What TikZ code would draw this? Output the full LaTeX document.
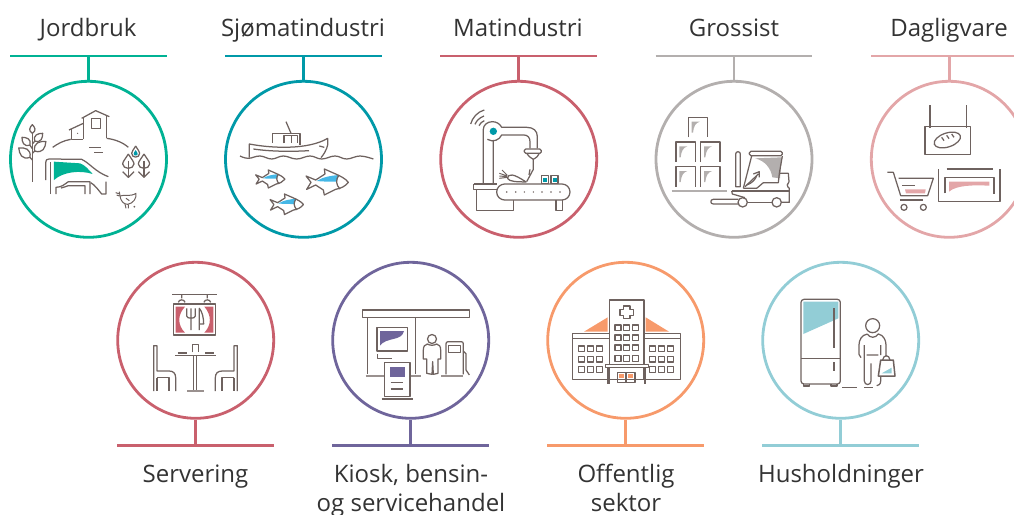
\documentclass[tikz,border=0pt]{standalone}
\usepackage{fontspec}
\setmainfont{Open Sans}
\definecolor{ink}{HTML}{6E625F}
\definecolor{cgreen}{HTML}{00B294}
\definecolor{cteal}{HTML}{0099A8}
\definecolor{crose}{HTML}{C9606D}
\definecolor{cgray}{HTML}{B3AFAE}
\definecolor{cpink}{HTML}{E3A6A8}
\definecolor{cpurple}{HTML}{6F659B}
\definecolor{corange}{HTML}{F79A6B}
\definecolor{cblue}{HTML}{92CDD6}
\definecolor{cfish}{HTML}{45B7E6}
\tikzset{
  ring/.style={circle,draw=#1,line width=2.8pt,minimum size=156pt,inner sep=0pt},
  barline/.style={draw=#1,line width=2.8pt},
  lab/.style={font=\fontsize{24}{29}\selectfont,text=black!80,align=center,inner sep=0pt,anchor=base},
  ico/.style={draw=ink,line width=1.25pt,line join=round,fill=none},
  thickico/.style={draw=ink!70,line width=2.4pt},
  iconframe/.style 2 args={shift={(#1,#2)},x=0.33333pt,y=-0.33333pt},
}
\newcommand{\lf}[4]{\draw[ico,shift={(#1,#2)},rotate=#3] (0,0) .. controls ({#4*.5},{-#4*.3}) and ({#4*.3},{-#4*.7}) .. (0,{-#4}) .. controls ({-#4*.3},{-#4*.7}) and ({-#4*.5},{-#4*.3}) .. (0,0);}
\newcommand{\fishy}[3]{\begin{scope}[shift={(#1,#2)},scale=#3]
  \fill[cfish] (32,36) .. controls (50,24) and (75,20) .. (99,18) -- (92,38) .. controls (70,38) and (50,38) .. cycle;
  \draw[ico] (0,21) -- (29,33) -- (57,15) -- (55,0) -- (89,15) .. controls (105,22) and (120,30) .. (127,40) .. controls (118,52) and (105,58) .. (89,61) -- (55,78) -- (52,63) -- (29,48) -- (2,61) -- (15,40) -- cycle;
  \draw[ico] (99,18) .. controls (88,32) and (90,48) .. (102,60);
\end{scope}}
\newcommand{\crate}[2]{\fill[cgray] (#1+10,#2+13) -- (#1+34,#2+13) .. controls (#1+22,#2+17) and (#1+16,#2+26) .. (#1+14,#2+46) -- (#1+10,#2+46) -- cycle;
  \draw[ico] (#1,#2+60) -- (#1,#2) -- (#1+58,#2) -- (#1+58,#2+60);}
\newcommand{\winrow}[4]{\foreach \xx in {#1}{\draw[ico] (\xx,#2) rectangle ++(#3,#4);}}
\begin{document}
\begin{tikzpicture}[x=1pt,y=-1pt]
\useasboundingbox (0,0) rectangle (1014,514);
\clip (0,0) rectangle (1014,514);
% rings
\node[ring=cgreen]  (r1) at (88.5,159.3) {};
\node[ring=cteal]   (r2) at (303.5,159.3) {};
\node[ring=crose]   (r3) at (518.7,159.3) {};
\node[ring=cgray]   (r4) at (734,159.3) {};
\node[ring=cpink]   (r5) at (949.3,159.3) {};
\node[ring=crose]   (r6) at (195.7,340.3) {};
\node[ring=cpurple] (r7) at (410.7,340.3) {};
\node[ring=corange] (r8) at (625.7,340.3) {};
\node[ring=cblue]   (r9) at (840.7,340.3) {};
% bars and connectors
\foreach \n/\x/\c in {1/88.5/cgreen,2/303.5/cteal,3/518.7/crose,4/734/cgray,5/949.3/cpink}{
  \coordinate (b\n) at (\x,56);
  \draw[barline=\c] (\x-78.3,56) -- (\x+78.3,56);
  \draw[barline=\c] (b\n) -- (r\n.north);
}
\foreach \n/\x/\c in {6/195.7/crose,7/410.7/cpurple,8/625.7/corange,9/840.7/cblue}{
  \coordinate (b\n) at (\x,445.5);
  \draw[barline=\c] (\x-78.3,445.5) -- (\x+78.3,445.5);
  \draw[barline=\c] (b\n) -- (r\n.south);
}
% labels
\node[lab] (l1) at (88,36) {Jordbruk};
\node[lab] (l2) at (303,36) {Sjømatindustri};
\node[lab] (l3) at (518,36) {Matindustri};
\node[lab] (l4) at (734,36) {Grossist};
\node[lab] (l5) at (949,36) {Dagligvare};
\node[lab] (l6) at (195.5,482) {Servering};
\node[lab] (l7a) at (411,482) {Kiosk, bensin-};
\node[lab] (l7b) at (411,511) {og servicehandel};
\node[lab] (l8a) at (626,482) {Offentlig};
\node[lab] (l8b) at (626,511) {sektor};
\node[lab] (l9) at (841,482) {Husholdninger};
% icon 1: farm
\begin{scope}[iconframe={0}{70}]
\draw[ico] (250,207) -- (250,142); \draw[ico] (245,145) -- (287,122) -- (328,140); \draw[ico] (320,136) -- (320,205);
\draw[ico] (274,145) rectangle (301,175);
\draw[ico] (250,160) -- (207,180); \draw[ico] (215,178) -- (215,208) -- (250,208);
\fill[ink] (233,190) circle (2);
\draw[ico] (158,232) .. controls (175,220) and (190,212) .. (212,208);
\draw[ico] (320,205) .. controls (345,208) and (370,218) .. (385,232);
\draw[ico] (268,232) -- (303,232); \draw[ico] (283,247) -- (310,247);
\draw[ico] (97,335) -- (97,190);
\lf{97}{190}{0}{26} \lf{90}{226}{45}{34} \lf{104}{214}{-45}{34} \lf{90}{262}{50}{44} \lf{104}{243}{-50}{44}
\draw[ico] (90,226) -- (97,236); \draw[ico] (104,214) -- (97,222); \draw[ico] (90,262) -- (97,270); \draw[ico] (104,243) -- (97,250);
\fill[cgreen] (162,275) -- (240,280) .. controls (255,285) and (265,298) .. (278,312) .. controls (240,300) and (190,305) .. (162,330) -- cycle;
\draw[ico] (137,330) -- (137,278) .. controls (137,270) and (140,267) .. (147,267) -- (245,268) .. controls (270,280) and (285,305) .. (325,320);
\draw[ico] (152,372) -- (152,275);
\draw[ico] (168,372) -- (168,352) .. controls (185,352) and (195,342) .. (205,335) -- (270,335) -- (270,372);
\draw[ico] (255,372) -- (255,347) -- (205,347) .. controls (198,350) and (190,352) .. (183,354);
\draw[ico] (272,338) .. controls (285,345) and (295,360) .. (305,372) -- (318,372) -- (318,335);
\draw[ico] (407,228) .. controls (400,240) and (395,245) .. (395,250) .. controls (395,265) and (419,265) .. (419,250) .. controls (419,245) and (414,240) .. (407,228);
\fill[cteal] (407,240) .. controls (403,246) and (401,249) .. (401,252) .. controls (401,258) and (413,258) .. (413,252) .. controls (413,249) and (411,246) .. (407,240);
\foreach \tx in {385,432}{
 \draw[ico] (\tx,252) .. controls (\tx-8,265) and (\tx-17,275) .. (\tx-17,282) .. controls (\tx-17,290) and (\tx-8,295) .. (\tx,295) .. controls (\tx+8,295) and (\tx+17,290) .. (\tx+17,282) .. controls (\tx+17,275) and (\tx+8,265) .. (\tx,252);
 \draw[ico] (\tx,272) -- (\tx,322); \draw[ico] (\tx-17,305) -- (\tx,322) -- (\tx+17,305);
}
\draw[ico,line width=1pt] (360,378) .. controls (375,372) and (388,382) .. (408,370) .. controls (410,385) and (400,400) .. (383,403) .. controls (370,403) and (362,392) .. (360,378);
\draw[ico,line width=1pt] (360,378) -- (358,365) (347,368) -- (360,372) (350,375) -- (358,378);
\draw[ico,line width=1pt] (375,402) -- (378,415) (385,403) -- (385,415) (378,385) -- (388,392);
\fill[ink] (403,410) circle (3);
\end{scope}
% icon 2: boat and fish
\begin{scope}[iconframe={215}{70}]
\draw[ico] (103,263) -- (103,222) .. controls (170,235) and (280,240) .. (338,205) -- (338,225) .. controls (335,240) and (325,255) .. (318,263);
\draw[ico] (115,237) .. controls (170,245) and (230,245) .. (282,242);
\draw[ico] (173,218) -- (173,190) -- (255,190) -- (255,225);
\draw[ico] (207,220) -- (207,197) -- (247,197) -- (247,220); \draw[ico] (229,197) -- (229,220);
\draw[ico] (213,155) -- (228,190);
\draw[ico] (313,228) -- (328,232);
\draw[ico] plot[smooth,tension=.7] coordinates {(75,258) (100,265) (135,258) (170,267) (205,258) (245,267) (285,258) (320,267) (360,258) (395,267) (435,258) (475,267)};
\fishy{122}{300}{.69}
\fishy{165}{372}{.79}
\fishy{273}{297}{1}
\end{scope}
% icon 3: robot
\begin{scope}[iconframe={430}{70}]
\draw[ico] (160,342) -- (160,178) .. controls (160,165) and (172,155) .. (187,155) .. controls (200,155) and (210,162) .. (215,172) -- (290,172) .. controls (310,172) and (322,182) .. (322,200) -- (322,235);
\draw[ico] (190,342) -- (190,212) (172,208) .. controls (190,218) and (208,210) .. (215,195) -- (282,195) .. controls (293,195) and (300,203) .. (300,215) -- (300,235);
\fill[cteal] (190,184) circle (11);
\draw[ico] (122,162) .. controls (127,143) and (143,125) .. (163,120);
\draw[ico] (135,163) .. controls (139,153) and (148,143) .. (162,138);
\draw[ico] (147,167) .. controls (150,160) and (156,155) .. (163,152);
\draw[ico,rounded corners=1.5pt] (283,237) -- (334,237) -- (334,250) -- (283,250) -- cycle;
\draw[ico] (290,250) .. controls (295,258) and (300,262) .. (310,268) .. controls (320,262) and (325,258) .. (328,250);
\draw[ico] (310,268) -- (310,298) -- (290,335); \draw[ico] (300,298) -- (297,315);
\draw[ico] (232,325) .. controls (235,310) and (250,310) .. (288,336) .. controls (260,335) and (240,336) .. (232,325);
\draw[ico,line width=1pt] (232,318) -- (208,310) (232,320) -- (208,318) (232,322) -- (208,325) (232,316) -- (216,300);
\draw[ico] (131,342) -- (200,342) (131,342) -- (131,358) -- (200,358);
\draw[ico] (140,358) -- (140,422) -- (250,422) -- (250,390);
\filldraw[ico,fill=white] (224,342) -- (396,342) arc (-90:90:24) -- (224,390) arc (90:270:24) -- cycle;
\foreach \dx in {230,257,283,310,336,363,390}{\fill[ink] (\dx,366) circle (2.5);}
\draw[ico] (378,390) -- (378,422) -- (397,422) -- (397,390);
\foreach \bx in {335,363}{\draw[ico] (\bx,317) rectangle ++(21,23); \fill[cteal] (\bx+5,323) rectangle ++(12,12);}
\end{scope}
% icon 4: forklift
\begin{scope}[iconframe={645}{70}]
\crate{130}{142}\crate{93}{216}\crate{167}{216}\crate{93}{290}\crate{167}{290}
\draw[draw=cgray,line width=2.4pt] (80,363) -- (245,363);
\draw[ico] (272,252) arc (180:360:7) -- (286,350) -- (272,350) -- cycle;
\draw[ico,rounded corners=1.5pt] (313,244) rectangle (412,257);
\fill[cgray] (330,265) -- (410,262) -- (405,325) -- (382,322) .. controls (378,295) and (360,272) .. (330,265) -- cycle;
\draw[ico] (320,258) -- (295,355); \draw[ico] (412,258) -- (403,310);
\draw[ico] (403,310) -- (430,310) -- (432,335) .. controls (425,340) and (425,350) .. (433,355) -- (433,397) -- (410,397);
\draw[ico] (380,397) -- (308,397);
\draw[ico] (295,355) -- (335,355) -- (355,338) -- (400,338) -- (403,310);
\draw[ico] (260,363) -- (433,363);
\draw[ico] (260,363) -- (262,372) -- (300,383);
\draw[ico] (300,350) -- (340,312) (325,312) -- (343,305) -- (343,322);
\draw[ico] (305,345) .. controls (320,340) and (330,330) .. (335,318);
\draw[ico] (280,388) -- (205,388) .. controls (195,388) and (195,402) .. (205,402) -- (280,402);
\filldraw[ico,fill=white] (293,397) circle (14); \filldraw[ico,fill=white] (395,397) circle (14);
\end{scope}
% icon 5: grocery
\begin{scope}[iconframe={860}{70}]
\draw[ico] (210,105) -- (210,175) (320,105) -- (320,175);
\draw[ico] (195,170) rectangle (332,253);
\draw[ico,rotate around={18:(262,210)}] (262,210) ellipse (41 and 21);
\draw[ico] (245,202) -- (252,212) (260,196) -- (267,206) (275,192) -- (282,202);
\draw[ico] (82,307) -- (100,307) -- (122,377) -- (203,377) -- (220,325) -- (116,325);
\draw[ico] (127,347) -- (165,347) (120,390) -- (190,390);
\fill[cpink] (135,358) -- (197,358) -- (195,370) -- (138,370) -- cycle;
\draw[ico] (132,412) circle (9); \draw[ico] (190,412) circle (9);
\draw[ico] (235,297) -- (235,395) -- (420,395) -- (420,297);
\draw[ico] (260,297) -- (398,297);
\draw[ico] (255,370) -- (255,322) -- (402,322) -- (402,372);
\fill[cpink] (267,335) -- (388,335) -- (388,347) .. controls (340,345) and (290,345) .. (267,365) -- cycle;
\end{scope}
% icon 6: restaurant
\begin{scope}[iconframe={105}{255}]
\draw[ico] (202,118) -- (335,118);
\foreach \hx in {230,307}{\draw[ico] (\hx,118) -- (\hx,130) (\hx-10,142) .. controls (\hx-8,132) and (\hx+8,132) .. (\hx+10,142);}
\draw[ico,line width=1.5pt] (205,147) rectangle (332,240);
\fill[crose] (212,155) -- (240,155) .. controls (217,180) and (217,210) .. (240,233) -- (212,233) -- cycle;
\fill[crose] (325,155) -- (298,155) .. controls (320,180) and (320,210) .. (298,233) -- (325,233) -- cycle;
\draw[ico] (245,160) -- (245,183) .. controls (245,192) and (271,192) .. (271,183) -- (271,160) (258,160) -- (258,225);
\draw[ico] (283,225) -- (283,160) .. controls (292,170) and (296,190) .. (296,207) -- (283,207);
\draw[ico] (210,302) -- (332,302) (218,294) -- (245,294) (300,294) -- (327,294);
\draw[ico] (262,292) -- (262,268) -- (280,268) -- (280,292);
\draw[ico] (265,302) -- (265,404) (275,302) -- (275,404);
\draw[ink!70,line width=2.4pt] (246,408) -- (297,408);
\draw[ico] (146,408) -- (146,272) -- (156,272) -- (156,348) -- (192,348) .. controls (205,348) and (212,355) .. (212,368) -- (212,408);
\draw[ico] (156,368) -- (192,368) -- (192,408) (156,368) -- (156,408);
\draw[ico] (397,408) -- (397,272) -- (387,272) -- (387,348) -- (352,348) .. controls (338,348) and (331,355) .. (331,368) -- (331,408);
\draw[ico] (387,368) -- (351,368) -- (351,408) (387,368) -- (387,408);
\end{scope}
% icon 7: station
\begin{scope}[iconframe={320}{255}]
\draw[ico] (127,165) rectangle (448,188);
\draw[ico] (143,188) -- (143,358) (287,188) -- (287,358);
\draw[ink!70,line width=2.2pt] (137,362) -- (303,362);
\draw[ico,line width=1.5pt] (171,218) rectangle (263,288);
\fill[cpurple] (180,228) -- (252,228) .. controls (245,260) and (200,245) .. (180,272) -- cycle;
\draw[ico] (172,297) -- (172,310) -- (217,310);
\filldraw[ico,fill=white] (193,322) -- (270,322) -- (270,425) -- (193,425) -- cycle;
\fill[cpurple] (209,337) rectangle (255,367);
\draw[ico] (212,382) -- (250,382) (212,402) -- (250,402) (185,432) -- (280,432);
\draw[ico] (336,252) circle (13.5);
\draw[ico] (322,267) .. controls (330,272) and (342,272) .. (350,267) .. controls (358,268) and (362,275) .. (362,285) -- (362,312) -- (354,312) -- (354,355) -- (340,358) -- (338,320) -- (336,358) -- (320,355) -- (320,312) -- (310,312) -- (310,285) .. controls (310,275) and (314,268) .. (322,267);
\draw[ico,rounded corners=2pt] (378,358) -- (378,260) -- (430,260) -- (430,358);
\draw[ico] (386,272) rectangle (422,292);
\draw[ink!70,line width=2pt] (363,362) -- (428,362);
\draw[ico] (430,288) -- (438,296) -- (438,345) -- (448,360);
\end{scope}
% icon 8: hospital
\begin{scope}[iconframe={535}{255}]
\fill[corange] (147,230) -- (218,187) -- (218,230) -- cycle;
\fill[corange] (332,187) -- (402,230) -- (332,230) -- cycle;
\draw[ico,line width=1.5pt] (113,236) rectangle (437,373);
\draw[ico,line width=1.5pt] (113,250) -- (223,250) (327,250) -- (437,250);
\filldraw[ico,line width=1.5pt,fill=white] (223,135) rectangle (327,373);
\draw[ico,line width=1.5pt] (266,153) -- (285,153) -- (285,163) -- (296,163) -- (296,181) -- (285,181) -- (285,191) -- (266,191) -- (266,181) -- (255,181) -- (255,163) -- (266,163) -- cycle;
\foreach \wy in {210,240,270,302}{\winrow{240,266,292}{\wy}{18}{17}}
\foreach \wy in {273,304,335}{\winrow{131,158,185}{\wy}{17}{17}\winrow{344,371,398}{\wy}{17}{17}}
\filldraw[ico,fill=white] (211,328) rectangle (340,337);
\draw[ico] (218,337) -- (218,386) (222,337) -- (222,386) (328,337) -- (328,386) (332,337) -- (332,386);
\draw[ico,line width=1.5pt] (247,352) rectangle (300,382) (273,352) -- (273,382);
\fill[corange] (252,358) rectangle (268,369); \fill[corange] (279,358) rectangle (295,369);
\end{scope}
% icon 9: household
\begin{scope}[iconframe={750}{255}]
\fill[cblue] (160,140) -- (265,140) -- (265,190) -- (160,237) -- cycle;
\draw[ico,rounded corners=3pt] (153,133) rectangle (271,387);
\draw[ico] (153,310) -- (271,310);
\draw[ico] (252,160) -- (252,280) (252,322) -- (252,347);
\draw[ico] (160,387) -- (160,393) -- (178,393) -- (178,387) (243,387) -- (243,393) -- (261,393) -- (261,387);
\draw[ico] (368,212) circle (21);
\draw[ico] (352,237) .. controls (360,250) and (376,250) .. (385,237) .. controls (400,240) and (408,255) .. (408,270) -- (408,305);
\draw[ico] (352,237) .. controls (335,240) and (327,255) .. (327,270) -- (327,298) -- (333,308);
\draw[ico] (343,270) -- (343,378) .. controls (343,392) and (363,392) .. (363,378) -- (363,325);
\draw[ico] (350,300) -- (385,300) (392,270) -- (392,300) (392,365) -- (392,378) .. controls (392,388) and (385,392) .. (380,392);
\fill[cblue] (395,355) -- (425,338) -- (425,355) -- cycle;
\draw[ico,line width=1.5pt] (385,363) -- (392,315) -- (430,315) -- (435,363) -- cycle;
\draw[ico] (398,315) .. controls (400,298) and (418,298) .. (420,315);
\draw[ico] (277,398) -- (320,398) (343,398) -- (368,398);
\end{scope}
\end{tikzpicture}
\end{document}
